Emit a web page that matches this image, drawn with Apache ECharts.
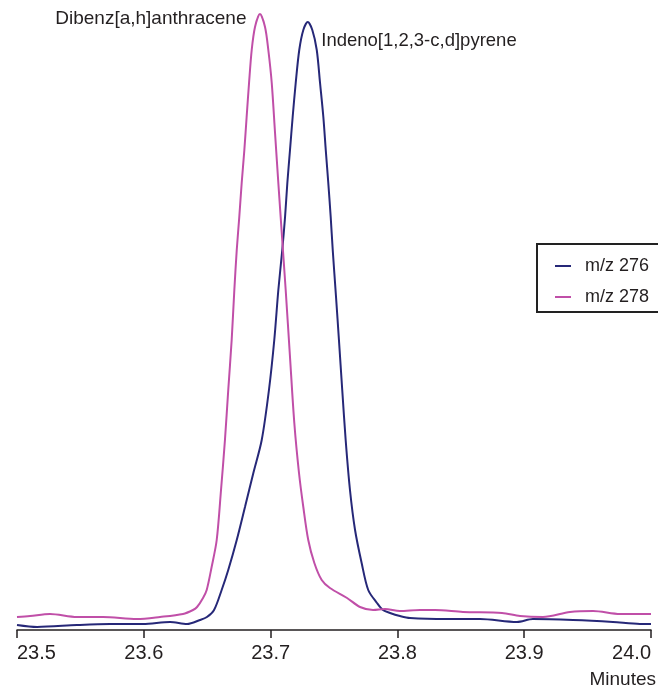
<!DOCTYPE html>
<html>
<head>
<meta charset="utf-8">
<title>m/z 276 / 278</title>
<script src="https://cdn.jsdelivr.net/npm/echarts@6/dist/echarts.min.js"></script>
<style>
  html, body { margin: 0; padding: 0; background: #fff; }
  #main { width: 658px; height: 689px; }
</style>
</head>
<body>
<div id="main"></div>
<script>
// 保留时间 (min) 与响应值
var time276 = [23.5000, 23.5158, 23.5473, 23.5733, 23.5994, 23.6207, 23.6341, 23.6443, 23.6498, 23.6554,
  23.6614, 23.6666, 23.6733, 23.6798, 23.6864, 23.6930, 23.6987, 23.7029, 23.7061, 23.7092,
  23.7114, 23.7132, 23.7153, 23.7174, 23.7198, 23.7226, 23.7258, 23.7293, 23.7329, 23.7364,
  23.7390, 23.7416, 23.7435, 23.7455, 23.7474, 23.7490, 23.7516, 23.7539, 23.7565, 23.7592,
  23.7626, 23.7666, 23.7718, 23.7770, 23.7839, 23.7886, 23.7942, 23.8020, 23.8099, 23.8391,
  23.8651, 23.8943, 23.9069, 23.9385, 23.9700, 23.9913, 24.0000]
var resp276 = [5, 3, 5, 6, 6, 8, 6, 10, 13, 20,
  40, 60, 90, 123, 157, 190, 240, 290, 340, 380,
  413, 447, 480, 513, 547, 580, 600, 608, 600, 580,
  547, 513, 480, 447, 413, 380, 333, 290, 240, 190,
  140, 100, 67, 40, 27, 20, 17, 14, 12, 11,
  11, 8, 11, 10, 8, 6, 6]

var time278 = [23.5000, 23.5103, 23.5260, 23.5473, 23.5678, 23.5946, 23.6128, 23.6309, 23.6388, 23.6420,
  23.6467, 23.6496, 23.6535, 23.6575, 23.6609, 23.6640, 23.6666, 23.6693, 23.6714, 23.6733,
  23.6753, 23.6772, 23.6793, 23.6811, 23.6830, 23.6851, 23.6877, 23.6916, 23.6956, 23.6982,
  23.7009, 23.7035, 23.7061, 23.7088, 23.7119, 23.7153, 23.7187, 23.7224, 23.7258, 23.7297,
  23.7345, 23.7403, 23.7468, 23.7603, 23.7705, 23.7808, 23.7902, 23.8020, 23.8178, 23.8297,
  23.8517, 23.8825, 23.8967, 23.9148, 23.9361, 23.9543, 23.9756, 24.0000]
var resp278 = [13, 14, 16, 13, 13, 11, 13, 16, 20, 23,
  32, 40, 63, 90, 140, 190, 240, 290, 340, 380,
  413, 447, 480, 513, 547, 580, 603, 616, 603, 580,
  547, 497, 447, 397, 340, 273, 207, 157, 123, 90,
  67, 50, 42, 32, 23, 20, 21, 19, 20, 20,
  18, 17, 14, 13, 18, 19, 16, 16]

var seriesNames = ['m/z 276', 'm/z 278']
var peakNames = ['Indeno[1,2,3-c,d]pyrene', 'Dibenz[a,h]anthracene']

function pairs(xs, ys) {
  var out = []
  for (var i = 0; i < xs.length; i++) {
    out.push([xs[i], ys[i]])
  }
  return out
}

var font = '"Liberation Sans", Arial, sans-serif'
var narrow = '"Liberation Sans Narrow", "Arial Narrow", "Liberation Sans", sans-serif'

var myChart = echarts.init(document.getElementById('main'))
var option = {
  animation: false,
  backgroundColor: '#fff',
  grid: { left: 17, right: 7, top: 10, bottom: 59 },
  legend: {
    orient: 'vertical',
    left: 537,
    top: 244,
    data: seriesNames,
    icon: 'rect',
    itemWidth: 16,
    itemHeight: 2,
    itemGap: 11,
    padding: [12, 10, 5, 18],
    borderColor: '#222',
    borderWidth: 2,
    textStyle: { fontFamily: font, fontSize: 18, color: '#231f20', lineHeight: 20, padding: [0, 0, 0, 9] }
  },
  xAxis: {
    type: 'value',
    min: 23.5,
    max: 24.0,
    interval: 0.1,
    axisLine: { lineStyle: { color: '#231f20', width: 1.5 } },
    axisTick: { show: true, inside: false, length: 8, lineStyle: { color: '#231f20', width: 1.5 } },
    splitLine: { show: false },
    axisLabel: {
      margin: 13,
      fontFamily: narrow,
      fontSize: 20,
      color: '#231f20',
      alignMinLabel: 'left',
      alignMaxLabel: 'right',
      formatter: function (v) { return v.toFixed(1) }
    }
  },
  yAxis: {
    type: 'value',
    min: 0,
    max: 620,
    show: false
  },
  graphic: [{
    type: 'text',
    right: 2,
    top: 670,
    style: { text: 'Minutes', font: '19px ' + font, fill: '#231f20' }
  }],
  series: [
    {
      name: seriesNames[0],
      type: 'line',
      data: pairs(time276, resp276),
      showSymbol: false,
      smooth: 0.3,
      lineStyle: { color: '#262878', width: 2 },
      itemStyle: { color: '#262878' },
      markPoint: {
        symbol: 'circle',
        symbolSize: 1,
        itemStyle: { color: 'rgba(0,0,0,0)' },
        data: [{ type: 'max', name: peakNames[0] }],
        label: {
          show: true,
          position: 'right',
          distance: 13,
          offset: [0, 19],
          formatter: '{b}',
          fontFamily: font,
          fontSize: 18.5,
          color: '#231f20'
        }
      }
    },
    {
      name: seriesNames[1],
      type: 'line',
      data: pairs(time278, resp278),
      showSymbol: false,
      smooth: 0.3,
      lineStyle: { color: '#c04fa8', width: 2 },
      itemStyle: { color: '#c04fa8' },
      markPoint: {
        symbol: 'circle',
        symbolSize: 1,
        itemStyle: { color: 'rgba(0,0,0,0)' },
        data: [{ type: 'max', name: peakNames[1] }],
        label: {
          show: true,
          position: 'left',
          distance: 13,
          offset: [0, 5],
          formatter: '{b}',
          fontFamily: font,
          fontSize: 19,
          color: '#231f20'
        }
      }
    }
  ]
}
myChart.setOption(option)
</script>
</body>
</html>
